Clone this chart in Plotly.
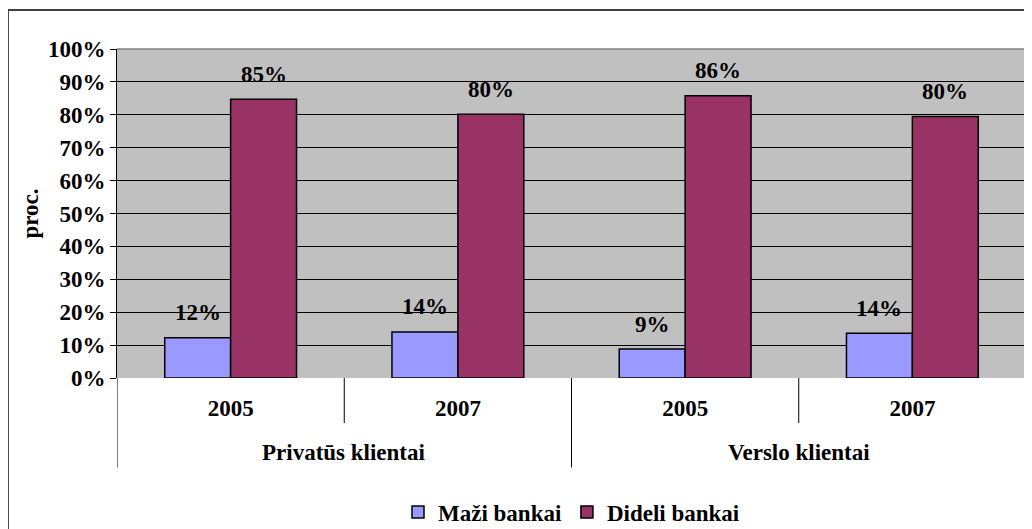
import plotly.graph_objects as go

groups = ["Privatūs klientai", "Privatūs klientai", "Verslo klientai", "Verslo klientai"]
years = ["2005", "2007", "2005", "2007"]
mazi = [0.122, 0.140, 0.088, 0.136]
dideli = [0.847, 0.802, 0.858, 0.795]
mazi_txt = ["12%", "14%", "9%", "14%"]
dideli_txt = ["85%", "80%", "86%", "80%"]
y_ticks = [i / 10 for i in range(11)]
y_ticktext = [f"{i*10}%" for i in range(11)]

FONT = "Liberation Serif"
fs = 23
BGAP = 0.42
x = list(range(len(years)))

def bfont(size=fs):
    return dict(family=FONT, size=size, color="black", weight="bold")

fig = go.Figure()
fig.add_trace(go.Bar(x=x, y=mazi, name="Maži bankai",
                     marker=dict(color="#9999FF", line=dict(color="black", width=1.5))))
fig.add_trace(go.Bar(x=x, y=dideli, name="Dideli bankai",
                     marker=dict(color="#993366", line=dict(color="black", width=1.5))))

annotations = []
bw = (1 - BGAP) / 2
for si, (vals, txts) in enumerate([(mazi, mazi_txt), (dideli, dideli_txt)]):
    off = (si - 0.5) * bw
    for i, (v, t) in enumerate(zip(vals, txts)):
        annotations.append(dict(x=i + off, y=v, xref="x", yref="y", text=t, showarrow=False,
                                yanchor="middle", yshift=25, font=bfont()))

shapes = []
for i in range(len(x) + 1):
    b = i - 0.5
    outer = i == 0 or i == len(x) or (groups[i - 1] != groups[i])
    shapes.append(dict(type="line", xref="x", yref="paper", x0=b, x1=b, y0=0,
                       y1=-0.272 if outer else -0.137, line=dict(color="black", width=1)))
# outer frame
shapes.append(dict(type="rect", xref="paper", yref="paper", x0=-0.12, x1=1.2, y0=-0.6, y1=1.1185,
                   line=dict(color="#404040", width=2), layer="below"))
# plot area border top and right (gray)
shapes.append(dict(type="line", xref="paper", yref="paper", x0=0, x1=1, y0=1, y1=1,
                   line=dict(color="#808080", width=1.5)))
shapes.append(dict(type="line", xref="paper", yref="paper", x0=1, x1=1, y0=0, y1=1,
                   line=dict(color="#808080", width=1.5)))

seen = []
for g in groups:
    if g not in seen:
        seen.append(g)
for g in seen:
    idx = [i for i, v in enumerate(groups) if v == g]
    annotations.append(dict(x=sum(idx) / len(idx), xref="x", y=-0.225, yref="paper", text=g,
                            showarrow=False, font=bfont(), yanchor="middle"))

fig.update_layout(
    width=1032, height=529,
    margin=dict(l=109, r=14, t=41, b=159),
    paper_bgcolor="white", plot_bgcolor="#C0C0C0",
    barmode="group", bargap=BGAP, bargroupgap=0,
    font=dict(family=FONT, size=fs, color="black"),
    showlegend=True,
    legend=dict(orientation="h", x=0.5, xanchor="center", yref="container", y=0.047, yanchor="middle",
                font=bfont(), itemwidth=30, traceorder="normal"),
    shapes=shapes, annotations=annotations,
    xaxis=dict(range=[-0.5, len(x) - 0.5], tickvals=x, ticktext=years, showgrid=False, zeroline=False,
               showline=False, ticks="", tickfont=bfont(), automargin=False, ticklabelstandoff=14),
    yaxis=dict(range=[0, 1], tickvals=y_ticks, ticktext=y_ticktext, showgrid=True, gridcolor="black",
               gridwidth=1, zeroline=False, showline=True, linecolor="black", linewidth=1, ticks="outside",
               ticklen=6, tickcolor="black", tickfont=bfont(), automargin=False,
               title=dict(text="proc.", font=bfont(), standoff=2)),
)
fig.write_html("out.html")
